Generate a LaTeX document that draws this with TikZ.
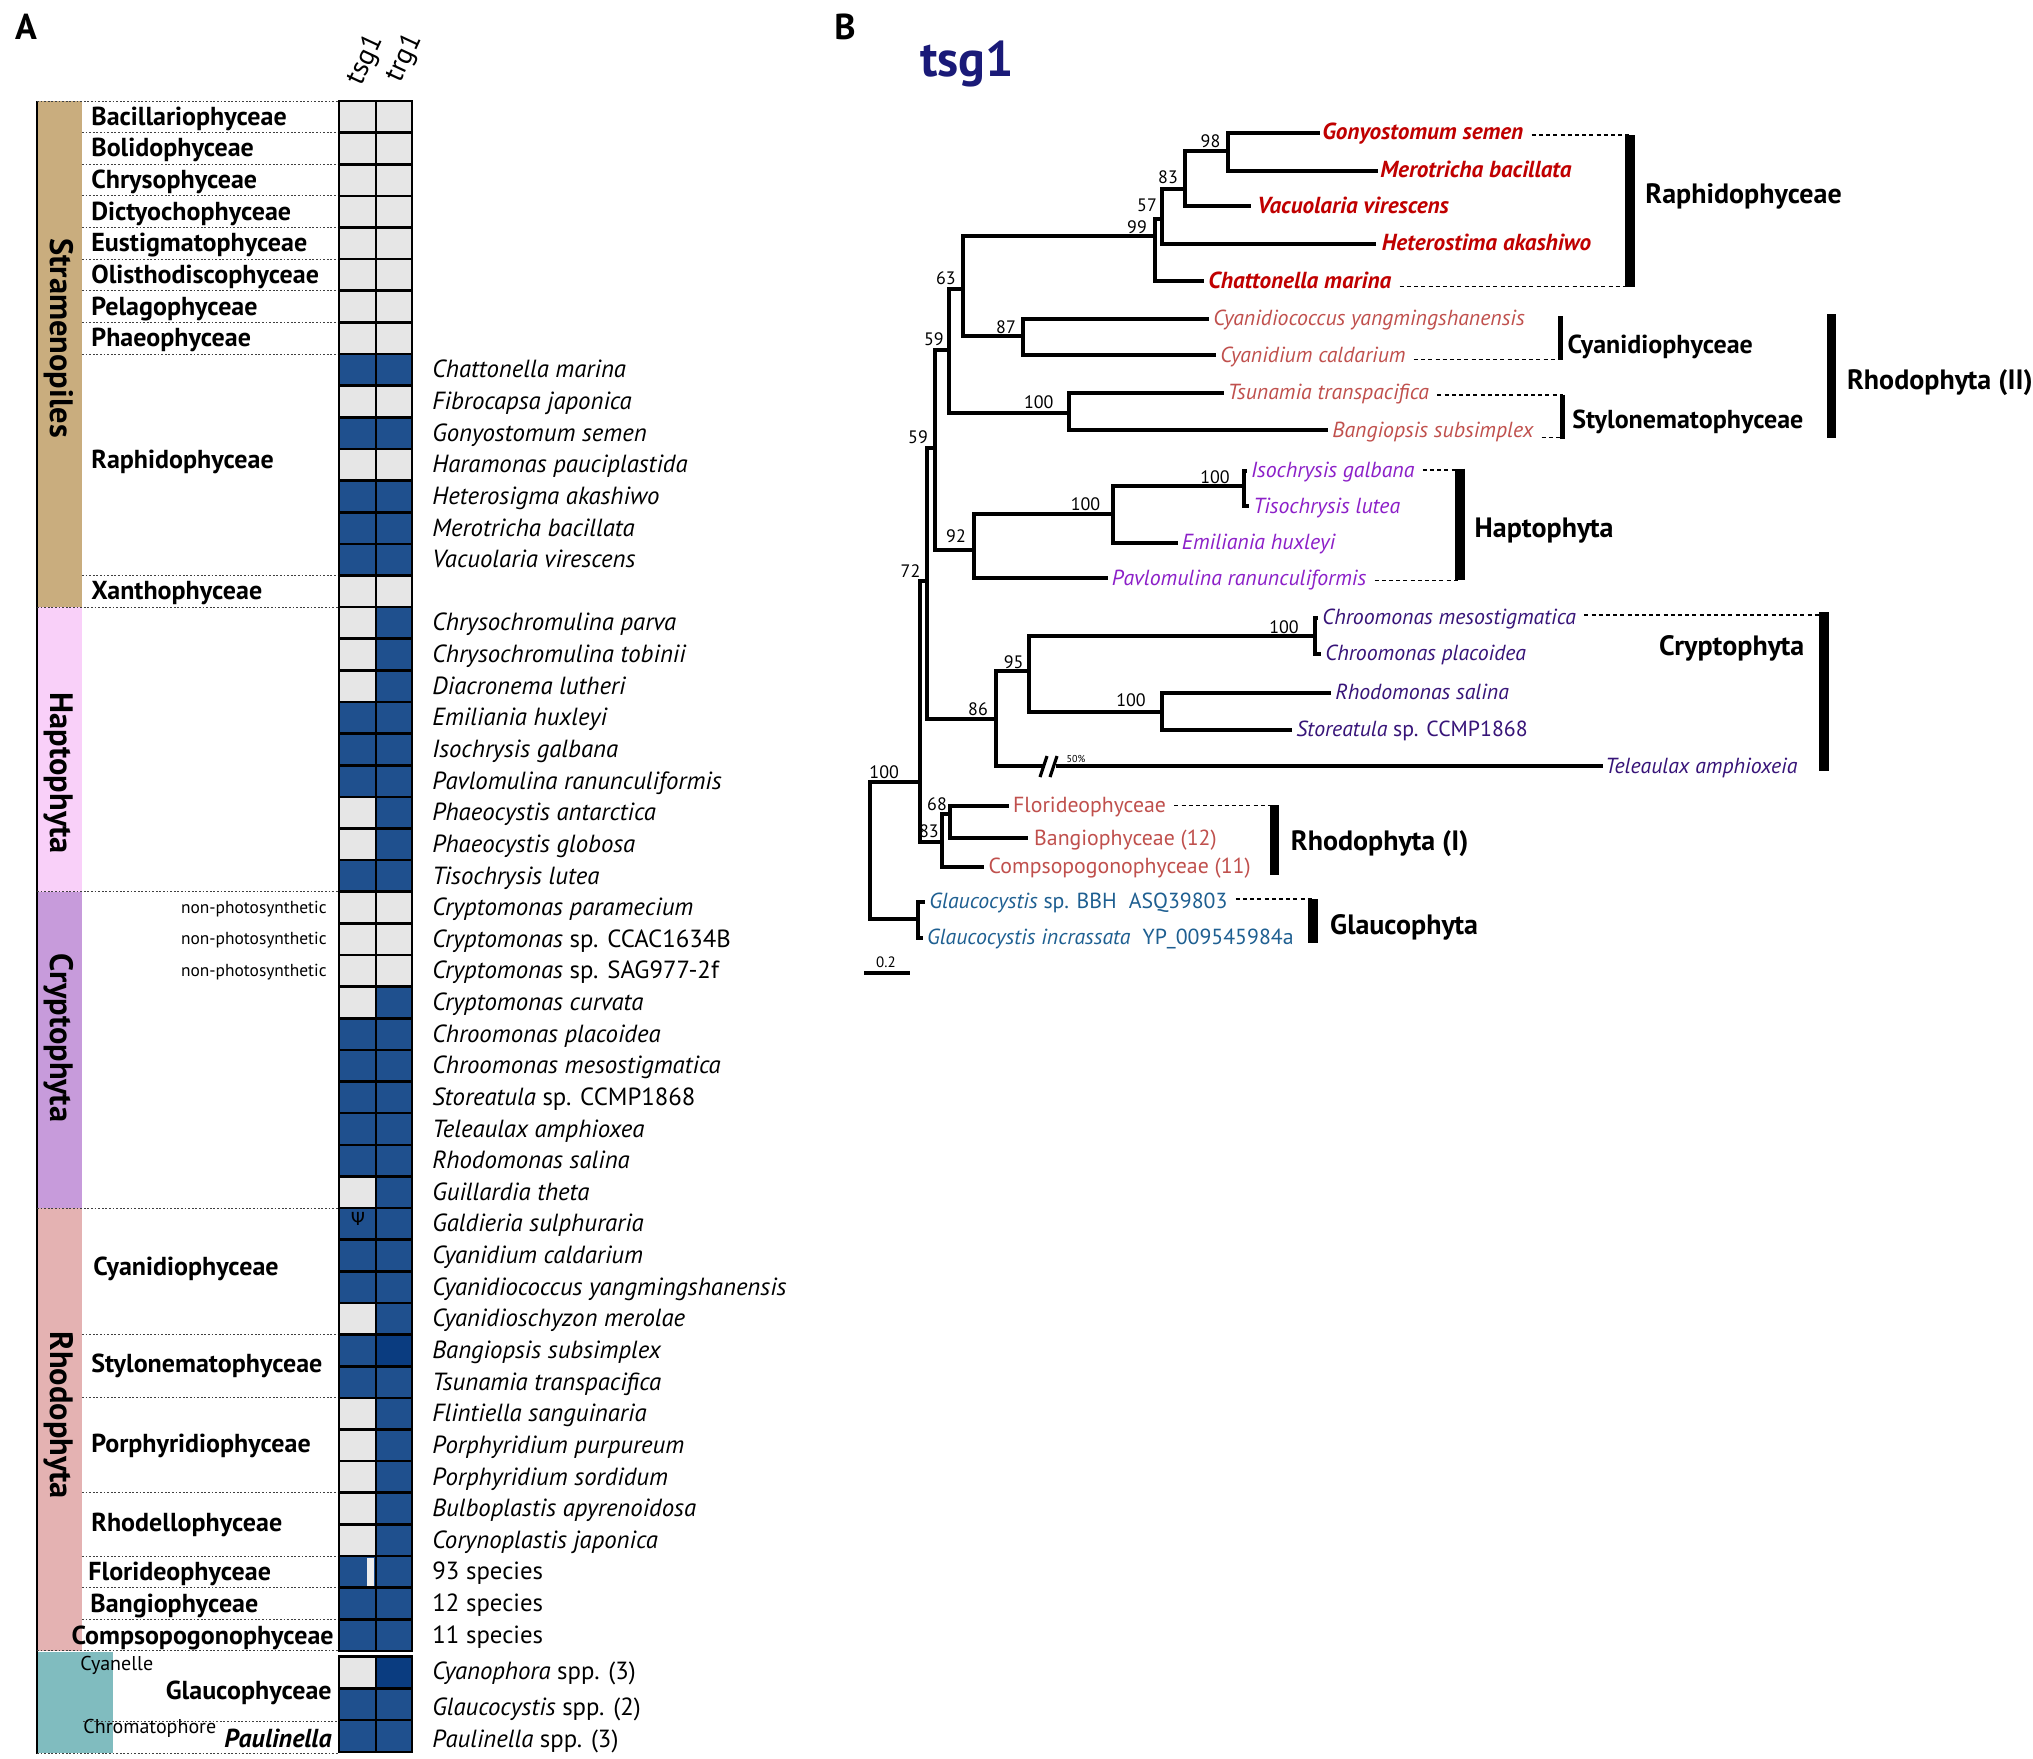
\documentclass[tikz,border=0pt]{standalone}
\usepackage{fontspec}
\setmainfont{PT Sans}
\newfontfamily\symfont{DejaVu Sans}
\usetikzlibrary{calc,positioning}

\definecolor{offc}{RGB}{230,230,230}
\definecolor{onc}{RGB}{31,80,142}
\definecolor{ondk}{RGB}{10,60,128}
\definecolor{stramc}{RGB}{201,173,126}
\definecolor{haptc}{RGB}{249,208,249}
\definecolor{cryptc}{RGB}{199,155,219}
\definecolor{rhodc}{RGB}{228,178,178}
\definecolor{glauc}{RGB}{128,188,191}
\definecolor{raphred}{RGB}{192,0,0}
\definecolor{rhodred}{RGB}{192,80,77}
\definecolor{haptpurp}{RGB}{140,32,200}
\definecolor{cryptind}{RGB}{55,20,120}
\definecolor{glaublue}{RGB}{30,95,145}
\definecolor{titleblue}{RGB}{26,26,120}

\tikzset{
  lab/.style={inner sep=0pt,anchor=west},
  grp/.style={lab,font=\fontsize{13}{14}\selectfont\bfseries,text height=9pt,text depth=0.5pt},
  spc/.style={lab,font=\fontsize{12.4}{13}\selectfont,text height=8.6pt,text depth=0.5pt},
  note/.style={inner sep=0pt,font=\fontsize{8.7}{9}\selectfont,text height=6pt,text depth=0.4pt},
  clade/.style={inner sep=0pt,rotate=-90,font=\fontsize{16.2}{17}\selectfont\bfseries},
  sepline/.style={line width=0.5pt,black!75,dash pattern=on 0.9pt off 0.9pt},
  cellbox/.style={draw=black,line width=1.3pt},
  br/.style={line width=2pt,line cap=rect},
  leaf/.style={lab,font=\fontsize{10.9}{11}\selectfont\itshape,text height=7.4pt,text depth=0.5pt},
  rleaf/.style={leaf,font=\fontsize{10.9}{11}\selectfont\upshape},
  raph/.style={leaf,font=\fontsize{11.6}{12}\selectfont\bfseries\itshape,text=raphred},
  boot/.style={inner sep=0pt,font=\fontsize{9}{9}\selectfont},
  cbar/.style={line width=4.7pt},
  cname/.style={lab,font=\fontsize{14}{15}\selectfont\bfseries,text height=9.8pt,text depth=0.5pt},
  subname/.style={cname,font=\fontsize{13}{14}\selectfont\bfseries},
  lead/.style={line width=0.6pt,dash pattern=on 2pt off 1.6pt}
}

\begin{document}
\begin{tikzpicture}[x=0.5pt,y=-0.5pt]
\useasboundingbox (0,0) rectangle (2033,1758);
\fill[white] (0,0) rectangle (2033,1758);

%% ---------------- panel A ----------------
\node[font=\fontsize{18}{18}\selectfont\bfseries] (pa) at (26,27) {A};
\node[inner sep=0pt,rotate=65,font=\fontsize{14}{14}\selectfont] (htsg) at (366,60) {tsg1};
\node[inner sep=0pt,rotate=65,font=\fontsize{14}{14}\selectfont] (htrg) at (405,58) {trg1};

% colour bars
\fill[stramc] (38,101) rectangle (82,607);
\fill[haptc] (38,607) rectangle (82,892);
\fill[cryptc] (38,892) rectangle (82,1208);
\fill[rhodc] (38,1208) rectangle (82,1651);
\fill[glauc] (38,1652) rectangle (113,1753);
\draw[line width=0.9pt] (37,101) -- (37,1754);

\node[clade] (cstr) at (59,338) {Stramenopiles};
\node[clade] (chap) at (59,773) {Haptophyta};
\node[clade] (ccry) at (59,1038) {Cryptophyta};
\node[clade] (crho) at (59,1415) {Rhodophyta};

% row separators
\foreach \i in {1,...,8,15,39,41,44,46,47,48}
  \draw[sepline] (82,101+\i*31.63) -- (339,101+\i*31.63);
\foreach \i in {0,16,25,35,49}
  \draw[sepline] (37,101+\i*31.63) -- (339,101+\i*31.63);
\draw[sepline] (83,1721) -- (339,1721);
\draw[sepline] (37,1753) -- (339,1753);

% presence cells
\foreach \i/\ca/\cb in {0/offc/offc,1/offc/offc,2/offc/offc,3/offc/offc,4/offc/offc,
  5/offc/offc,6/offc/offc,7/offc/offc,8/onc/onc,9/offc/offc,10/onc/onc,11/offc/offc,
  12/onc/onc,13/onc/onc,14/onc/onc,15/offc/offc,16/offc/onc,17/offc/onc,18/offc/onc,
  19/onc/onc,20/onc/onc,21/onc/onc,22/offc/onc,23/offc/onc,24/onc/onc,25/offc/offc,
  26/offc/offc,27/offc/offc,28/offc/onc,29/onc/onc,30/onc/onc,31/onc/onc,32/onc/onc,
  33/onc/onc,34/offc/onc,35/onc/onc,36/onc/onc,37/onc/onc,38/offc/onc,39/onc/ondk,
  40/onc/onc,41/offc/onc,42/offc/onc,43/offc/onc,44/offc/onc,45/offc/onc,46/onc/onc,
  47/onc/onc,48/onc/onc}{
  \filldraw[cellbox,fill=\ca] (339,101+\i*31.63) rectangle (376,132.63+\i*31.63);
  \filldraw[cellbox,fill=\cb] (376,101+\i*31.63) rectangle (412,132.63+\i*31.63);
}
\foreach \i/\ca/\cb in {0/offc/ondk,1/onc/onc,2/onc/onc}{
  \filldraw[cellbox,fill=\ca] (339,1656.7+\i*31.7) rectangle (376,1688.4+\i*31.7);
  \filldraw[cellbox,fill=\cb] (376,1656.7+\i*31.7) rectangle (412,1688.4+\i*31.7);
}
\fill[white!93!black] (367,1558) rectangle (373.5,1586);
\node[inner sep=0pt,font=\symfont\fontsize{9}{9}\selectfont,text=black] (psi) at (358,1219) {Ψ};

% species
\foreach \i/\t in {8/{\textit{Chattonella marina}},9/{\textit{Fibrocapsa japonica}},
  10/{\textit{Gonyostomum semen}},11/{\textit{Haramonas pauciplastida}},
  12/{\textit{Heterosigma akashiwo}},13/{\textit{Merotricha bacillata}},
  14/{\textit{Vacuolaria virescens}},16/{\textit{Chrysochromulina parva}},
  17/{\textit{Chrysochromulina tobinii}},18/{\textit{Diacronema lutheri}},
  19/{\textit{Emiliania huxleyi}},20/{\textit{Isochrysis galbana}},
  21/{\textit{Pavlomulina ranunculiformis}},22/{\textit{Phaeocystis antarctica}},
  23/{\textit{Phaeocystis globosa}},24/{\textit{Tisochrysis lutea}},
  25/{\textit{Cryptomonas paramecium}},26/{\textit{Cryptomonas} sp. CCAC1634B},
  27/{\textit{Cryptomonas} sp. SAG977-2f},28/{\textit{Cryptomonas curvata}},
  29/{\textit{Chroomonas placoidea}},30/{\textit{Chroomonas mesostigmatica}},
  31/{\textit{Storeatula} sp. CCMP1868},32/{\textit{Teleaulax amphioxea}},
  33/{\textit{Rhodomonas salina}},34/{\textit{Guillardia theta}},
  35/{\textit{Galdieria sulphuraria}},36/{\textit{Cyanidium caldarium}},
  37/{\textit{Cyanidiococcus yangmingshanensis}},38/{\textit{Cyanidioschyzon merolae}},
  39/{\textit{Bangiopsis subsimplex}},40/{\textit{Tsunamia transpacifica}},
  41/{\textit{Flintiella sanguinaria}},42/{\textit{Porphyridium purpureum}},
  43/{\textit{Porphyridium sordidum}},44/{\textit{Bulboplastis apyrenoidosa}},
  45/{\textit{Corynoplastis japonica}},46/{93 species},47/{12 species},48/{11 species}}
  \node[spc] (sp\i) at (432,116.8+\i*31.63) {\t};
\node[spc] (spg0) at (432,1671) {\textit{Cyanophora} spp. (3)};
\node[spc] (spg1) at (432,1707) {\textit{Glaucocystis} spp. (2)};
\node[spc] (spg2) at (432,1739) {\textit{Paulinella} spp. (3)};

% group names
\foreach \i/\t in {0/Bacillariophyceae,1/Bolidophyceae,2/Chrysophyceae,
  3/Dictyochophyceae,4/Eustigmatophyceae,5/Olisthodiscophyceae,
  6/Pelagophyceae,7/Phaeophyceae,15/Xanthophyceae}
  \node[grp] (g\i) at (91,116.8+\i*31.63) {\t};
\node[grp] (graph) at (91,460) {Raphidophyceae};
\node[grp] (gcya) at (93,1267) {Cyanidiophyceae};
\node[grp] (gsty) at (91,1364) {Stylonematophyceae};
\node[grp] (gpor) at (91,1444) {Porphyridiophyceae};
\node[grp] (grhl) at (91,1523) {Rhodellophyceae};
\node[grp] (gflo) at (88,1572) {Florideophyceae};
\node[grp] (gban) at (90,1604) {Bangiophyceae};
\node[grp,anchor=east] (gcom) at (334,1636) {Compsopogonophyceae};
\node[grp,anchor=east] (gglc) at (332,1691) {Glaucophyceae};
\node[grp,anchor=east,font=\fontsize{13}{14}\selectfont\bfseries\itshape] (gpau) at (332,1739) {Paulinella};
\node[lab,font=\fontsize{10}{10}\selectfont] (cyl) at (80,1665) {Cyanelle};
\node[lab,font=\fontsize{10}{10}\selectfont] (chr) at (83,1728) {Chromatophore};
\foreach \i in {25,26,27}
  \node[note,anchor=east] (np\i) at (327,116.8+\i*31.63) {non-photosynthetic};

%% ---------------- panel B ----------------
\node[font=\fontsize{18}{18}\selectfont\bfseries] (pb) at (845,27) {B};
\node[font=\fontsize{25}{25}\selectfont\bfseries,text=titleblue,inner sep=0pt] (ttl) at (967,64) {tsg1};

% leaves
\node[raph] (gon) at (1322,133) {Gonyostomum semen};
\node[raph] (mer) at (1380,170.7) {Merotricha bacillata};
\node[raph] (vac) at (1257,206.4) {Vacuolaria virescens};
\node[raph] (het) at (1381.5,243.6) {Heterostima akashiwo};
\node[raph] (cha) at (1208,281.4) {Chattonella marina};
\node[leaf,text=rhodred] (cyc) at (1213,318.6) {Cyanidiococcus yangmingshanensis};
\node[leaf,text=rhodred] (cyd) at (1220,355.4) {Cyanidium caldarium};
\node[leaf,text=rhodred] (tsu) at (1227.5,393) {Tsunamia transpacifica};
\node[leaf,text=rhodred] (ban) at (1332,430.4) {Bangiopsis subsimplex};
\node[leaf,text=haptpurp] (iso) at (1250.7,471) {Isochrysis galbana};
\node[leaf,text=haptpurp] (tis) at (1253,506.4) {Tisochrysis lutea};
\node[leaf,text=haptpurp] (emi) at (1181.5,542.9) {Emiliania huxleyi};
\node[leaf,text=haptpurp] (pav) at (1111.5,578.3) {Pavlomulina ranunculiformis};
\node[leaf,text=cryptind] (chm) at (1322,618) {Chroomonas mesostigmatica};
\node[leaf,text=cryptind] (chp) at (1325,653.5) {Chroomonas placoidea};
\node[leaf,text=cryptind] (rho) at (1335,693) {Rhodomonas salina};
\node[leaf,text=cryptind] (sto) at (1296,730) {Storeatula \upshape sp. CCMP1868};
\node[leaf,text=cryptind] (tel) at (1605,766.4) {Teleaulax amphioxeia};
\node[rleaf,text=rhodred] (flo) at (1012.8,805.6) {Florideophyceae};
\node[rleaf,text=rhodred] (bag) at (1033.8,838.3) {Bangiophyceae (12)};
\node[rleaf,text=rhodred] (com) at (988.3,866.8) {Compsopogonophyceae (11)};
\node[leaf,text=glaublue] (gl1) at (929,901.9) {Glaucocystis \upshape sp. BBH\hspace{6pt}ASQ39803};
\node[leaf,text=glaublue] (gl2) at (926.7,937.7) {Glaucocystis incrassata\hspace{6pt}\upshape YP\_009545984a};

% internal nodes
\path
  (1228,150.7) coordinate (n98)
  (1184.6,189) coordinate (n83)
  (1162.3,218.6) coordinate (n57)
  (1154.7,236.4) coordinate (n99)
  (962.8,288.6) coordinate (n63)
  (1023,335.7) coordinate (n87)
  (949.4,350) coordinate (n59u)
  (1068.6,412.5) coordinate (nst)
  (934.6,448) coordinate (n59l)
  (974,550) coordinate (n92)
  (1113,514.3) coordinate (nhp)
  (1244,485.7) coordinate (nis)
  (927,581) coordinate (n72)
  (996,718.6) coordinate (n86)
  (1029.3,670.8) coordinate (n95)
  (1315,636) coordinate (nchr)
  (1161.7,711.5) coordinate (ncr)
  (920,782) coordinate (nall)
  (942.3,842.3) coordinate (n83r)
  (950,814) coordinate (n68)
  (917.7,919.3) coordinate (ngl)
  (870,782) coordinate (root);

% branches
\draw[br] ([xshift=-2pt]gon.west) -| (n98) |- ([xshift=-2pt]mer.west);
\draw[br] (n98) -| (n83) |- ([xshift=-4pt]vac.west);
\draw[br] (n83) -| (n57) |- ([xshift=-4pt]het.west);
\draw[br] (n57) -| (n99) |- ([xshift=-3pt]cha.west);
\draw[br] (n99) -| (n63) |- (n87);
\draw[br] ([xshift=-3pt]cyc.west) -| (n87) |- ([xshift=-3pt]cyd.west);
\draw[br] (n63) -| (n59u) |- (nst);
\draw[br] ([xshift=-3pt]tsu.west) -| (nst) |- ([xshift=-3pt]ban.west);
\draw[br] (n59u) -| (n59l) |- (n92);
\draw[br] (nhp) -| (n92) |- ([xshift=-3pt]pav.west);
\draw[br] (nis) -| (nhp) |- ([xshift=-3pt]emi.west);
\draw[br] ([xshift=-3pt]iso.west) -| (nis) |- ([xshift=-3pt]tis.west);
\draw[br] (n59l) -| (n72) |- (n86);
\draw[br] (n95) -| (n86) |- ([xshift=-2pt]tel.west);
\draw[br] (nchr) -| (n95) |- (ncr);
\draw[br] ([xshift=-3pt]chm.west) -| (nchr) |- ([xshift=-3pt]chp.west);
\draw[br] ([xshift=-3pt]rho.west) -| (ncr) |- ([xshift=-3pt]sto.west);
\draw[br] (n72) -| (nall) |- (n83r);
\draw[br] (n68) -| (n83r) |- ([xshift=-3pt]com.west);
\draw[br] ([xshift=-3pt]flo.west) -| (n68) |- ([xshift=-4pt]bag.west);
\draw[br] (nall) -| (root) |- (ngl);
\draw[br] ([xshift=-3pt]gl1.west) -| (ngl) |- ([xshift=-3pt]gl2.west);

% break on the long branch
\fill[white] (1044,760) rectangle (1056,773);
\draw[line width=1.6pt] (1040,777) -- (1047,756);
\draw[line width=1.6pt] (1050,777) -- (1057,756);
\node[inner sep=0pt,font=\fontsize{5}{5}\selectfont] (pct) at (1076,758.7) {50\%};

% support values
\node[boot] (b98) at (1210.5,141) {98};
\node[boot] (b83) at (1168,177) {83};
\node[boot] (b57) at (1147,205) {57};
\node[boot] (b99) at (1137,227) {99};
\node[boot] (b63) at (945.8,278) {63};
\node[boot] (b87) at (1006,327) {87};
\node[boot] (b59u) at (933.8,339) {59};
\node[boot] (bst) at (1038.7,402) {100};
\node[boot] (b59l) at (918,437.5) {59};
\node[boot] (b92) at (956,536) {92};
\node[boot] (bhp) at (1085.5,504) {100};
\node[boot] (bis) at (1215,477) {100};
\node[boot] (b72) at (910.5,571.4) {72};
\node[boot] (b86) at (978,709) {86};
\node[boot] (b95) at (1013.7,661.7) {95};
\node[boot] (bchr) at (1284,626.7) {100};
\node[boot] (bcr) at (1131,700) {100};
\node[boot] (b68) at (937,804) {68};
\node[boot] (b83r) at (928.9,831.6) {83};
\node[boot] (ball) at (884.2,772) {100};

% scale bar
\draw[line width=2pt] (864,972.8) coordinate (sb0) -- (910,972.8) coordinate (sb1);
\node[inner sep=0pt,font=\fontsize{7.5}{8}\selectfont] (sbl) at (886,962) {0.2};

% clade bars
\draw[cbar] (1630,135) coordinate (raphT) -- (1630,287) coordinate (raphB);
\draw[line width=2.6pt] (1560.5,316) coordinate (cyaT) -- (1560.5,360) coordinate (cyaB);
\draw[line width=2.6pt] (1562.5,394.6) coordinate (styT) -- (1562.5,439.3) coordinate (styB);
\draw[cbar] (1831.7,314) coordinate (rh2T) -- (1831.7,438) coordinate (rh2B);
\draw[cbar] (1460,468.6) coordinate (hapT) -- (1460,579.8) coordinate (hapB);
\draw[cbar] (1824,612) coordinate (cryT) -- (1824,770.7) coordinate (cryB);
\draw[cbar] (1274.2,805) coordinate (rh1T) -- (1274.2,875) coordinate (rh1B);
\draw[cbar] (1313,899) coordinate (glaT) -- (1313,943) coordinate (glaB);

\node[cname] (lraph) at (1645,194.6) {Raphidophyceae};
\node[subname] (lcya) at (1567.3,344.6) {Cyanidiophyceae};
\node[subname] (lsty) at (1572,419.6) {Stylonematophyceae};
\node[cname] (lrh2) at (1846.7,380.4) {Rhodophyta (II)};
\node[cname] (lhap) at (1474.3,527.9) {Haptophyta};
\node[cname,anchor=east] (lcry) at (1804.7,646.3) {Cryptophyta};
\node[cname] (lrh1) at (1290.5,840.7) {Rhodophyta (I)};
\node[cname] (lgla) at (1329.8,925) {Glaucophyta};

% leaders
\draw[lead] ($(gon.east)+(8,2)$) -- ($(gon.east -| raphT)+(0,2)$);
\draw[lead] ($(cha.east)+(8,5)$) -- ($(cha.east -| raphB)+(0,5)$);
\draw[lead] ($(cyd.east)+(8,4)$) -- ($(cyd.east -| cyaB)+(0,4)$);
\draw[lead] ($(tsu.east)+(8,2)$) -- ($(tsu.east -| styT)+(0,2)$);
\draw[lead] ($(ban.east)+(8,7)$) -- ($(ban.east -| styB)+(0,7)$);
\draw[lead] ($(iso.east)+(8,-1)$) -- ($(iso.east -| hapT)+(0,-1)$);
\draw[lead] ($(pav.east)+(8,2)$) -- ($(pav.east -| hapB)+(0,2)$);
\draw[lead] ($(chm.east)+(8,-3)$) -- ($(chm.east -| cryT)+(0,-3)$);
\draw[lead] ($(flo.east)+(8,0)$) -- ($(flo.east -| rh1T)+(0,0)$);
\draw[lead] ($(gl1.east)+(8,-3)$) -- ($(gl1.east -| glaT)+(0,-3)$);

\end{tikzpicture}
\end{document}
